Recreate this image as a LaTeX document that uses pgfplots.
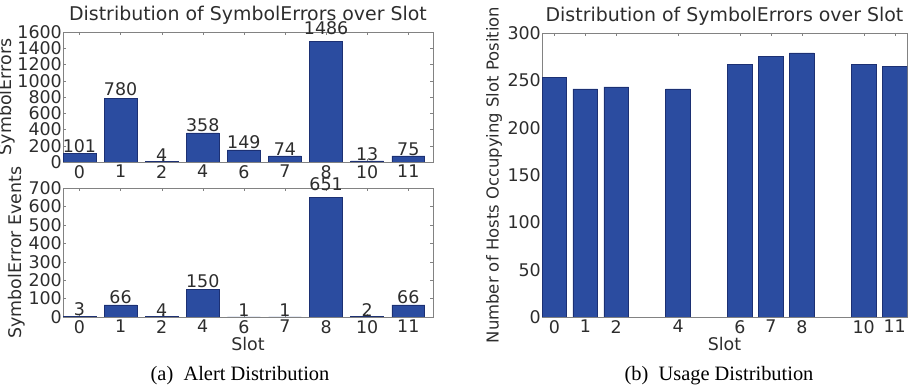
\documentclass[border=0pt]{standalone}
\usepackage{pgfplots}
\pgfplotsset{compat=1.18}
\usepackage{pgfplotstable}
\usepackage{fontspec}
\setmainfont{DejaVu Sans}
\newfontfamily\capfont{Liberation Serif}
\definecolor{barblue}{RGB}{43,76,160}
\definecolor{baredge}{RGB}{28,48,115}
\definecolor{framegray}{RGB}{130,130,130}
\definecolor{txt}{RGB}{45,45,45}
\newcommand\cf{\fontsize{17.5}{19}\selectfont}

\pgfplotstableread{
x y
0 101
1 780
2 4
3 358
4 149
5 74
6 1486
7 13
8 75
}\tabA
\pgfplotstableread{
x y
0 3
1 66
2 4
3 150
4 1
5 1
6 651
7 2
8 66
}\tabB
\pgfplotstableread{
x y
0 253
1 241
2 243
4 241
6 267
7 275
8 279
10 267
11 265
}\tabC

\pgfplotsset{
  myax/.style={
    scale only axis,
    anchor=south west,
    /pgf/number format/assume math mode=true,
    /pgf/number format/1000 sep={},
    axis line style={framegray},
    tick style={framegray, major tick length=3.5pt},
    ymin=0,
    xtick=data,
    title style={at={(axis description cs:0.5,1)}, anchor=base, yshift=6pt, inner sep=0pt, font=\fontsize{19}{21}\selectfont, text=txt},
    xticklabel style={inner sep=0pt, anchor=north, yshift=-3pt, font=\cf, text=txt},
    yticklabel style={inner sep=1pt, font=\cf, text=txt},
    ylabel style={anchor=center, font=\cf, text=txt},
    xlabel style={at={(axis description cs:0.5,0)}, anchor=base, yshift=-33.5pt, inner sep=0pt, font=\cf, text=txt},
  },
  bars/.style={ybar, bar width=0.8, bar shift=0pt, fill=barblue, draw=baredge, line width=0.6pt},
  labs/.style={draw=none, mark=none, nodes near coords, point meta=explicit,
    every node near coord/.style={anchor=south, inner sep=0pt, text=txt, font=\cf}},
}

\begin{document}
\begin{tikzpicture}
\path[use as bounding box] (0,0) rectangle (915bp,391bp);

\begin{axis}[myax, at={(63bp,229bp)}, width=370bp, height=130bp,
  xmin=-0.4, xmax=8.6, ymax=1600, ytick={0,200,...,1600},
  xticklabels={0,1,2,4,6,7,8,10,11},
  title={Distribution of SymbolErrors over Slot},
  ylabel={SymbolErrors},
  ylabel style={at={(axis description cs:-0.152,0.5)}},
]
\addplot[bars] table[x=x,y=y] {\tabA};
\addplot[labs] table[x=x, y expr=1.05*\thisrow{y}, meta=y] {\tabA};
\end{axis}

\begin{axis}[myax, at={(63bp,74bp)}, width=370bp, height=129bp,
  xmin=-0.4, xmax=8.6, ymax=700, ytick={0,100,...,700},
  xticklabels={0,1,2,4,6,7,8,10,11},
  xlabel={Slot},
  ylabel={SymbolError Events},
  ylabel style={at={(axis description cs:-0.126,0.5)}},
]
\addplot[bars] table[x=x,y=y] {\tabB};
\addplot[labs] table[x=x, y expr=1.05*\thisrow{y}, meta=y] {\tabB};
\end{axis}

\begin{axis}[myax, at={(542bp,74bp)}, width=365bp, height=284bp,
  xmin=-0.4, xmax=11.4, ymax=300, ytick={0,50,...,300},
  title={Distribution of SymbolErrors over Slot},
  xlabel={Slot},
  ylabel={Number of Hosts Occupying Slot Position},
  ylabel style={at={(axis description cs:-0.1315,0.5)}, font=\fontsize{16.5}{18}\selectfont},
]
\addplot[bars] table[x=x,y=y] {\tabC};
\end{axis}

\node[font=\capfont\fontsize{20.5}{22}\selectfont, anchor=base, text=black] at (240bp,11bp) {(a)\enspace Alert Distribution};
\node[font=\capfont\fontsize{20.5}{22}\selectfont, anchor=base, text=black] at (719bp,11bp) {(b)\enspace Usage Distribution};
\end{tikzpicture}
\end{document}
